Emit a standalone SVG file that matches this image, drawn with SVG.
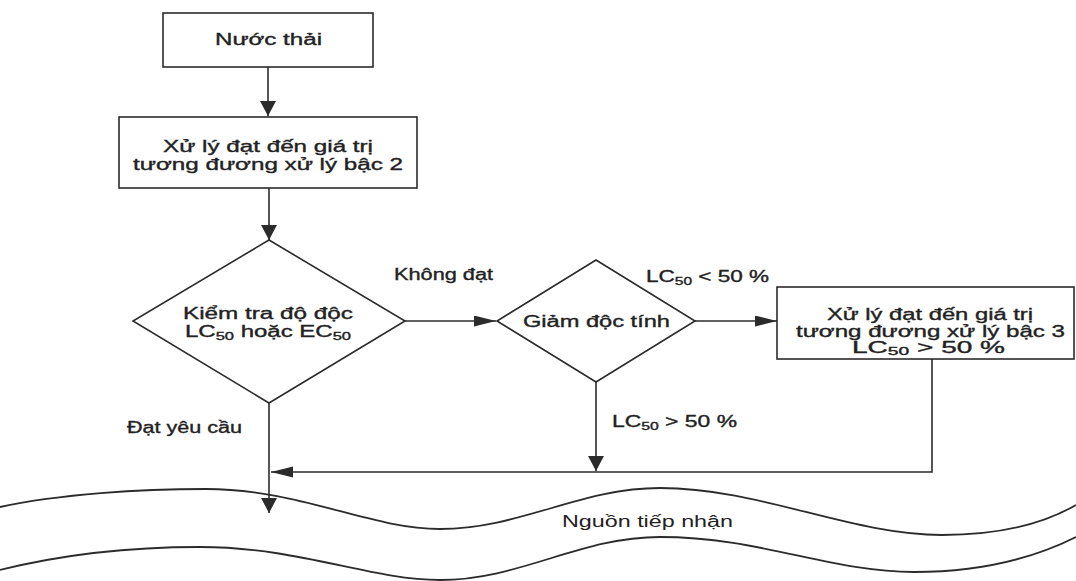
<svg xmlns="http://www.w3.org/2000/svg" width="1076" height="581" viewBox="0 0 1076 581">
<style>
.bg{fill:#ffffff}
.box{fill:none;stroke:#2b2b2b;stroke-width:1.6}
.ln{fill:none;stroke:#2b2b2b;stroke-width:1.6}
.wave{fill:none;stroke:#2b2b2b;stroke-width:1.8}
.t{font-family:"Liberation Sans",Arial,sans-serif;font-size:16px;fill:#222;stroke:#222;stroke-width:0.35}
.thin{stroke:none}
.sub{font-size:11px}
</style>
<defs>
<marker id="ah" markerUnits="userSpaceOnUse" markerWidth="24" markerHeight="12" refX="22" refY="5.5" orient="auto">
<path d="M0,0 L22,5.5 L0,11 Z" fill="#2b2b2b"/>
</marker>
<marker id="av" markerUnits="userSpaceOnUse" markerWidth="16" markerHeight="18" refX="15" refY="8" orient="auto">
<path d="M0,0 L15,8 L0,16 Z" fill="#2b2b2b"/>
</marker>
</defs>
<rect class="bg" x="0" y="0" width="1076" height="581"/>

<g id="connectors">
<line class="ln" x1="268" y1="67" x2="268" y2="116" marker-end="url(#av)"/>
<line class="ln" x1="269" y1="188" x2="269" y2="240" marker-end="url(#av)"/>
<line class="ln" x1="405" y1="321" x2="496" y2="321" marker-end="url(#ah)"/>
<line class="ln" x1="695" y1="321" x2="777" y2="321" marker-end="url(#ah)"/>
<line class="ln" x1="596" y1="382" x2="596" y2="471" marker-end="url(#av)"/>
<polyline class="ln" points="932,359 932,472 271,472" marker-end="url(#ah)"/>
<line class="ln" x1="269" y1="403" x2="269" y2="513" marker-end="url(#av)"/>
<text class="t" x="394" y="280" textLength="99" lengthAdjust="spacingAndGlyphs">Không đạt</text>
<text class="t" x="646" y="282" textLength="123" lengthAdjust="spacingAndGlyphs">LC<tspan class="sub" dy="3">50</tspan><tspan dy="-3"> &lt; 50 %</tspan></text>
<text class="t" x="612" y="427" textLength="125" lengthAdjust="spacingAndGlyphs">LC<tspan class="sub" dy="3">50</tspan><tspan dy="-3"> &gt; 50 %</tspan></text>
<text class="t" x="127" y="433" textLength="115" lengthAdjust="spacingAndGlyphs">Đạt yêu cầu</text>
</g>

<g id="node-nuoc-thai">
<rect class="box" x="163" y="13" width="210" height="54"/>
<text class="t" x="215" y="45" textLength="107" lengthAdjust="spacingAndGlyphs">Nước thải</text>
</g>

<g id="node-xu-ly-bac-2">
<rect class="box" x="119" y="117" width="298" height="71"/>
<text class="t" x="163" y="152" textLength="210" lengthAdjust="spacingAndGlyphs">Xử lý đạt đến giá trị</text>
<text class="t" x="133" y="170" textLength="270" lengthAdjust="spacingAndGlyphs">tương đương xử lý bậc 2</text>
</g>

<g id="node-kiem-tra">
<polygon class="box" points="269,240 405,321 269,403 133,321"/>
<text class="t" x="183" y="319" textLength="170" lengthAdjust="spacingAndGlyphs">Kiểm tra độ độc</text>
<text class="t" x="185" y="337" textLength="166" lengthAdjust="spacingAndGlyphs">LC<tspan class="sub" dy="3">50</tspan><tspan dy="-3"> hoặc EC</tspan><tspan class="sub" dy="3">50</tspan></text>
</g>

<g id="node-giam-doc-tinh">
<polygon class="box" points="596,260 695,321 596,382 497,321"/>
<text class="t" x="523" y="327" textLength="147" lengthAdjust="spacingAndGlyphs">Giảm độc tính</text>
</g>

<g id="node-xu-ly-bac-3">
<rect class="box" x="777" y="287" width="297" height="72"/>
<text class="t" x="827" y="320" textLength="206" lengthAdjust="spacingAndGlyphs">Xử lý đạt đến giá trị</text>
<text class="t" x="796" y="337" textLength="269" lengthAdjust="spacingAndGlyphs">tương đương xử lý bậc 3</text>
<text class="t" x="852" y="353" textLength="153" lengthAdjust="spacingAndGlyphs">LC<tspan class="sub" dy="2">50</tspan><tspan dy="-2"> &gt; 50 %</tspan></text>
</g>

<g id="node-nguon-tiep-nhan">
<path class="wave" d="M0,507 C60,494 140,489 206,489 C300,489 370,529 440,529 C520,529 580,488 660,488 C760,488 850,535 942,535 C1010,535 1050,520 1076,505"/>
<path class="wave" d="M0,570 C60,555 130,547 200,547 C300,547 370,580 440,580 C520,580 580,537 660,537 C760,537 830,572 914,572 C990,572 1040,555 1076,537"/>
<text class="t thin" x="562" y="527" textLength="171" lengthAdjust="spacingAndGlyphs">Nguồn tiếp nhận</text>
</g>
</svg>
